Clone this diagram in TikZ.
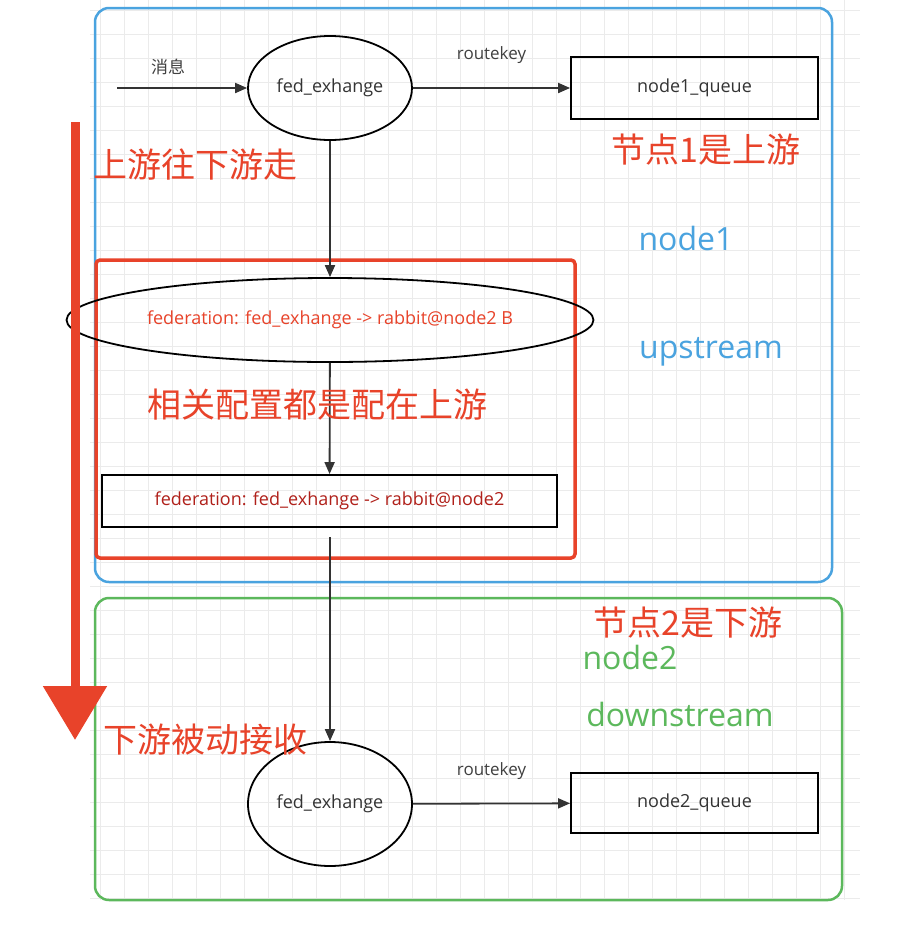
\documentclass[tikz,border=0pt]{standalone}
\usepackage{fontspec}
\setmainfont{Open Sans}
\newfontfamily\cjk{Noto Sans CJK SC}
\usetikzlibrary{shapes.geometric,arrows.meta}
\definecolor{bl}{HTML}{4AA3DF}
\definecolor{gr}{HTML}{5CB85C}
\definecolor{rd}{HTML}{E8432A}
\definecolor{dr}{HTML}{B0201A}
\begin{document}
\begin{tikzpicture}[x=1pt,y=-1pt,
  el/.style={ellipse,draw,line width=1.8pt,font=\fontsize{18}{20}\selectfont,text=black!80},
  bx/.style={rectangle,draw,line width=1.8pt,font=\fontsize{18}{20}\selectfont,text=black!80},
  ar/.style={-{Triangle[length=12pt,width=10pt]},line width=1.8pt,draw=black!80},
  lb/.style={font=\fontsize{17}{19}\selectfont,text=black!75},
  cn/.style={font=\cjk\fontsize{34}{38}\selectfont,text=rd},
  en/.style={font=\fontsize{32}{36}\selectfont}]
\useasboundingbox (0,0) rectangle (906,930);
\fill[white] (0,0) rectangle (906,930);
\foreach \x in {100,124,...,860} \draw[black!8] (\x,0) -- (\x,900);
\foreach \y in {10,34,...,900} \draw[black!8] (90,\y) -- (860,\y);
\draw[bl,line width=2.5pt,rounded corners=14pt] (95,8) rectangle (832,582);
\draw[gr,line width=2.5pt,rounded corners=14pt] (95,598) rectangle (842,900);
\draw[rd,line width=3.5pt,rounded corners=4pt] (96,260) rectangle (575,558);
\node[el,minimum width=164pt,minimum height=104pt] (e1) at (330,88) {fed\_exhange};
\node[bx,minimum width=247pt,minimum height=62pt] (q1) at (694.5,88) {node1\_queue};
\coordinate (in) at (117,88);
\draw[ar] (in) -- (e1);
\node[lb,font=\cjk\fontsize{17}{19}\selectfont] (xx) at (168,67) {消息};
\draw[ar] (e1) -- (q1) node[lb,midway,above=20pt] (rk1) {routekey};
\node[el,minimum width=474pt,minimum height=84pt,text=rd] (e2) at (330,320) {federation: fed\_exhange -> rabbit@node2 B};
\draw[ar] (e1) -- (e2);
\node[bx,minimum width=455pt,minimum height=52pt,text=dr] (b2) at (329.5,501) {federation: fed\_exhange -> rabbit@node2};
\draw[ar] (e2) -- (b2);
\node[el,minimum width=164pt,minimum height=124pt] (e3) at (330,804) {fed\_exhange};
\node[bx,minimum width=247pt,minimum height=60pt] (q2) at (694.5,803) {node2\_queue};
\coordinate (s) at (330,537);
\draw[ar] (s) -- (e3);
\draw[ar] (e3) -- (q2) node[lb,midway,above=20pt] (rk2) {routekey};
\node[cn] (t1) at (706,150) {节点1是上游};
\node[cn] (t2) at (195,165) {上游往下游走};
\node[en,text=bl] (t3) at (686,238) {node1};
\node[en,text=bl] (t4) at (711,352) {upstream};
\node[cn] (t5) at (317,405) {相关配置都是配在上游};
\node[cn] (t6) at (688,623) {节点2是下游};
\node[en,text=gr] (t7) at (630,657) {node2};
\node[en,text=gr] (t8) at (680,714) {downstream};
\node[cn] (t9) at (205,740) {下游被动接收};
\coordinate (a1) at (75,122);
\coordinate (a2) at (75,740);
\draw[rd,line width=9pt,-{Triangle[length=54pt,width=62pt]}] (a1) -- (a2);
\end{tikzpicture}
\end{document}
